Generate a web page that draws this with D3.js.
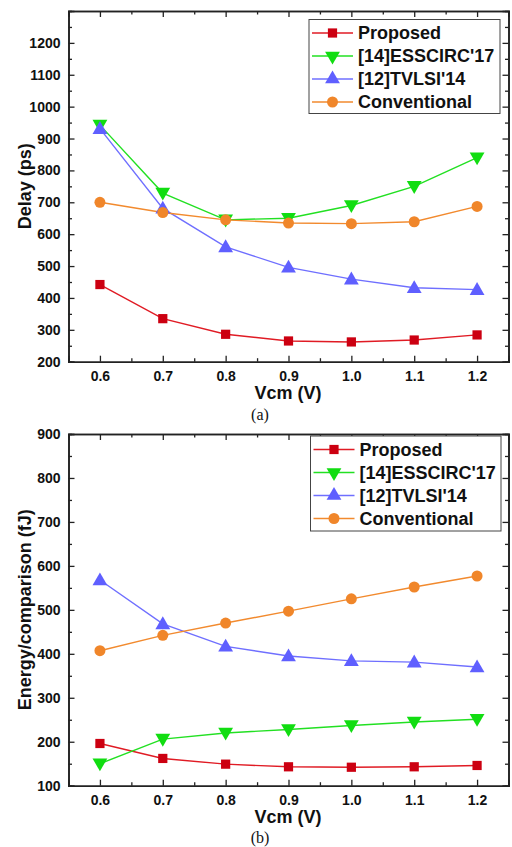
<!DOCTYPE html>
<html><head><meta charset="utf-8">
<script src="https://cdn.jsdelivr.net/npm/d3@7"></script>
<style>body{margin:0;background:#fff;} svg{display:block;}</style>
</head><body>
<script>
const vcm = [0.6, 0.7, 0.8, 0.9, 1.0, 1.1, 1.2];
const seriesNames = ["Proposed", "[14]ESSCIRC'17", "[12]TVLSI'14", "Conventional"];
const delayProposed = [442, 335, 286, 265, 262, 268, 284];
const delayEsscirc = [942, 729, 645, 650, 690, 750, 840];
const delayTvlsi = [931, 681, 560, 496, 459, 432, 426];
const delayConventional = [700, 668, 645, 635, 633, 639, 687];
const energyProposed = [196, 162, 149, 143, 142, 143, 146];
const energyEsscirc = [150, 206, 220, 228, 237, 245, 251];
const energyTvlsi = [568, 468, 417, 395, 384, 381, 370];
const energyConventional = [407, 442, 470, 497, 525, 552, 577];
const xTicks = [0.6, 0.7, 0.8, 0.9, 1.0, 1.1, 1.2];
const delayTicks = [200, 300, 400, 500, 600, 700, 800, 900, 1000, 1100, 1200];
const energyTicks = [100, 200, 300, 400, 500, 600, 700, 800, 900];

const colors = ["#e01b24", "#22e022", "#6f6fff", "#f28a2e"];
const markerColors = ["#cc0011", "#11dd11", "#5f5fff", "#f0862a"];
const symbols = [d3.symbolSquare, d3.symbolTriangle, d3.symbolTriangle, d3.symbolCircle];
const symSizes = [85, 95, 95, 95];
const rotations = [0, 180, 0, 0];

const svg = d3.select("body").append("svg").attr("width", 512).attr("height", 847);
const FONT = "Liberation Sans, Arial, sans-serif";

function panel(cfg) {
  const {top, bottom, yDomain, yTicks, yLabel, data, caption, captionY, legend} = cfg;
  const left = 68.5, right = 508.5;
  const x = d3.scaleLinear().domain([0.55, 1.25]).range([left, right]);
  const y = d3.scaleLinear().domain(yDomain).range([bottom, top]);
  const g = svg.append("g");
  const minorX = d3.range(0.55, 1.251, 0.05).map(v => +v.toFixed(2)).filter(v => !xTicks.some(t => Math.abs(t - v) < 1e-6));
  const step = yTicks[1] - yTicks[0];
  const minorY = d3.range(yDomain[0] + step / 2, yDomain[1], step);

  const axB = d3.axisBottom(x).tickValues(xTicks).tickSize(-6).tickPadding(9).tickFormat(d3.format(".1f"));
  const axL = d3.axisLeft(y).tickValues(yTicks).tickSize(-6).tickPadding(8).tickFormat(d3.format("d"));
  const axT = d3.axisTop(x).tickValues(xTicks).tickSize(-6).tickFormat("");
  const axR = d3.axisRight(y).tickValues(yTicks).tickSize(-6).tickFormat("");
  const axBm = d3.axisBottom(x).tickValues(minorX).tickSize(-3.5).tickFormat("");
  const axLm = d3.axisLeft(y).tickValues(minorY).tickSize(-3.5).tickFormat("");
  const axTm = d3.axisTop(x).tickValues(minorX).tickSize(-3.5).tickFormat("");
  const axRm = d3.axisRight(y).tickValues(minorY).tickSize(-3.5).tickFormat("");

  g.append("g").attr("transform", `translate(0,${bottom})`).call(axB);
  g.append("g").attr("transform", `translate(0,${bottom})`).call(axBm);
  g.append("g").attr("transform", `translate(${left},0)`).call(axL);
  g.append("g").attr("transform", `translate(${left},0)`).call(axLm);
  g.append("g").attr("transform", `translate(0,${top})`).call(axT);
  g.append("g").attr("transform", `translate(0,${top})`).call(axTm);
  g.append("g").attr("transform", `translate(${right},0)`).call(axR);
  g.append("g").attr("transform", `translate(${right},0)`).call(axRm);
  g.selectAll(".domain").attr("stroke", "#222").attr("stroke-width", 1.6);
  g.selectAll(".tick line").attr("stroke", "#222").attr("stroke-width", 1.3);
  g.selectAll(".tick text").attr("font-family", FONT).attr("font-weight", "bold").attr("font-size", 14).attr("fill", "#111");

  g.append("text").attr("x", (left + right) / 2 - 0.5).attr("y", bottom + 37)
    .attr("text-anchor", "middle").attr("font-family", FONT).attr("font-weight", "bold").attr("font-size", 18).attr("fill", "#111")
    .text("Vcm (V)");
  g.append("text").attr("transform", `translate(31,${(top + bottom) / 2}) rotate(-90)`)
    .attr("text-anchor", "middle").attr("font-family", FONT).attr("font-weight", "bold").attr("font-size", 18).attr("fill", "#111")
    .text(yLabel);
  svg.append("text").attr("x", 260).attr("y", captionY).attr("text-anchor", "middle")
    .attr("font-family", "Liberation Serif, Times New Roman, serif").attr("font-size", 16).attr("fill", "#111").text(caption);

  const line = d3.line().x((d, i) => x(vcm[i])).y(d => y(d));
  data.forEach((vals, si) => {
    g.append("path").datum(vals).attr("d", line).attr("fill", "none").attr("stroke", colors[si]).attr("stroke-width", 1.4);
  });
  data.forEach((vals, si) => {
    g.selectAll(null).data(vals).enter().append("path")
      .attr("d", d3.symbol().type(symbols[si]).size(symSizes[si]))
      .attr("transform", (d, i) => `translate(${x(vcm[i])},${y(d) + (si === 1 ? -1 : si === 2 ? 1 : 0)}) rotate(${rotations[si]})`)
      .attr("fill", markerColors[si]);
  });

  const lg = svg.append("g");
  lg.append("rect").attr("x", legend.x).attr("y", legend.y).attr("width", legend.w).attr("height", legend.h)
    .attr("fill", "#fff").attr("stroke", "#444").attr("stroke-width", 1);
  seriesNames.forEach((name, si) => {
    const cy = legend.y + 13.5 + si * 23;
    lg.append("line").attr("x1", legend.x + 3).attr("x2", legend.x + 44).attr("y1", cy).attr("y2", cy)
      .attr("stroke", colors[si]).attr("stroke-width", 1.4);
    lg.append("path").attr("d", d3.symbol().type(symbols[si]).size(symSizes[si]))
      .attr("transform", `translate(${legend.x + 23.5},${cy}) rotate(${rotations[si]})`).attr("fill", markerColors[si]);
    lg.append("text").attr("x", legend.x + 49).attr("y", cy).attr("dy", "0.36em")
      .attr("font-family", FONT).attr("font-weight", "bold").attr("font-size", 18).attr("fill", "#111").text(name);
  });
}

panel({top: 11, bottom: 361.7, yDomain: [200, 1300], yTicks: delayTicks, yLabel: "Delay (ps)",
  data: [delayProposed, delayEsscirc, delayTvlsi, delayConventional], caption: "(a)", captionY: 420,
  legend: {x: 309, y: 19.5, w: 191, h: 94}});
panel({top: 434, bottom: 785.7, yDomain: [100, 900], yTicks: energyTicks, yLabel: "Energy/comparison (fJ)",
  data: [energyProposed, energyEsscirc, energyTvlsi, energyConventional], caption: "(b)", captionY: 843,
  legend: {x: 310.5, y: 436, w: 190.5, h: 95}});
</script>
</body></html>
